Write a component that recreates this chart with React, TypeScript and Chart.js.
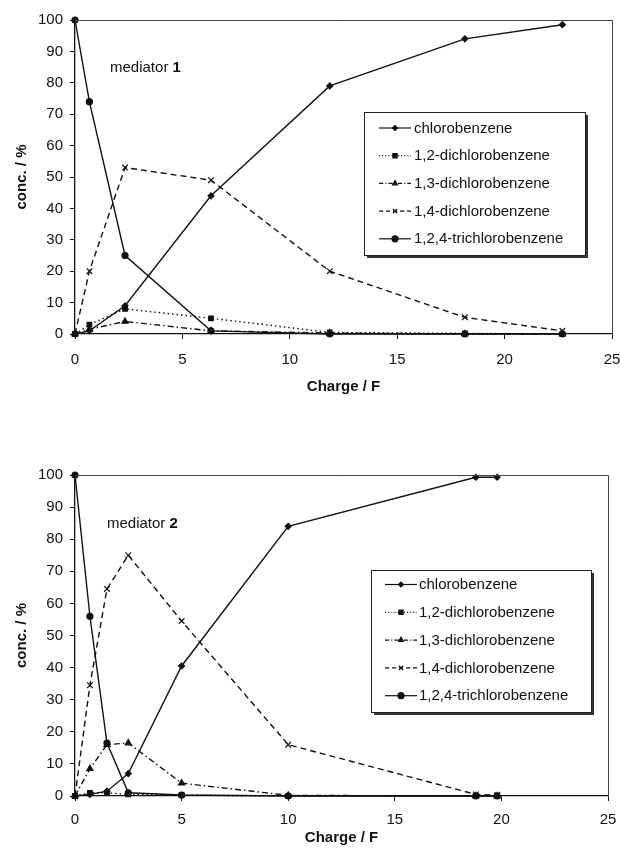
import React, { useEffect, useRef } from "react";
import { Chart, registerables } from "chart.js";
import { drawPoint } from "chart.js/helpers";

Chart.register(...registerables);
Chart.defaults.font.family = '"Liberation Sans", Arial, Helvetica, sans-serif';
Chart.defaults.color = "#111";

// ---------- data ----------
const SERIES_NAMES = [
  "chlorobenzene",
  "1,2-dichlorobenzene",
  "1,3-dichlorobenzene",
  "1,4-dichlorobenzene",
  "1,2,4-trichlorobenzene",
];

const X_TICKS = [0, 5, 10, 15, 20, 25];
const Y_TICKS = [0, 10, 20, 30, 40, 50, 60, 70, 80, 90, 100];

// mediator 1
const charge1 = [0, 0.67, 2.33, 6.33, 11.86, 18.15, 22.69];
const chloro1 = [0, 1, 9, 44, 79, 94, 98.5];
const dcb12_1 = [0, 3, 8, 5, 0.5, 0.2, 0];
const dcb13_1 = [0, 1.5, 4, 1, 0.3, 0, 0];
const dcb14_1 = [0, 20, 53, 49, 20, 5.3, 1];
const tcb1 = [100, 74, 25, 1, 0, 0, 0];

// mediator 2
const charge2 = [0, 0.7, 1.5, 2.5, 5, 10, 18.8, 19.8];
const chloro2 = [0, 0.5, 1.5, 7, 40.5, 84, 99.3, 99.3];
const dcb12_2 = [0, 1, 1, 0.5, 0.3, 0, 0, 0];
const dcb13_2 = [0, 8.5, 16, 16.5, 4, 0.2, 0, 0];
const dcb14_2 = [0, 34.5, 64.5, 75, 54.5, 16, 0.5, 0.3];
const tcb2 = [100, 56, 16.5, 1, 0.3, 0, 0, 0];

// ---------- styles ----------
const INK = "#111";
const STYLES = [
  { dash: [] as number[], point: "rectRot", radius: 3, lradius: 2.5 },
  { dash: [1.5, 3], point: "rect", radius: 3.2, lradius: 3 },
  { dash: [6, 3, 1.5, 3], point: "triangle", radius: 3.5, lradius: 2.8 },
  { dash: [6, 4], point: "crossRot", radius: 4, lradius: 3 },
  { dash: [] as number[], point: "circle", radius: 3, lradius: 3 },
];

const FONT = '"Liberation Sans", Arial, Helvetica, sans-serif';

const overlayPlugin = {
  id: "overlay",
  afterDraw(chart: any, _args: any, opts: any) {
    const { ctx, chartArea: a, scales } = chart;
    ctx.save();
    // top and right frame of plot area
    ctx.strokeStyle = "#444";
    ctx.lineWidth = 1;
    ctx.setLineDash([]);
    ctx.beginPath();
    ctx.moveTo(a.left, Math.round(a.top) + 0.5);
    ctx.lineTo(Math.round(a.right) + 0.5, Math.round(a.top) + 0.5);
    ctx.lineTo(Math.round(a.right) + 0.5, a.bottom);
    ctx.stroke();

    // annotation
    const px = scales.x.getPixelForValue(opts.labelX);
    const py = scales.y.getPixelForValue(opts.labelY);
    ctx.fillStyle = INK;
    ctx.textAlign = "left";
    ctx.textBaseline = "alphabetic";
    ctx.font = `15px ${FONT}`;
    ctx.fillText("mediator ", px, py);
    const w = ctx.measureText("mediator ").width;
    ctx.font = `bold 15px ${FONT}`;
    ctx.fillText(opts.labelNum, px + w, py);

    // legend box
    const L = opts.legend;
    ctx.fillStyle = "#333";
    ctx.fillRect(L.x + 3, L.y + 3, L.w, L.h);
    ctx.fillStyle = "#fff";
    ctx.fillRect(L.x, L.y, L.w, L.h);
    ctx.strokeStyle = "#222";
    ctx.lineWidth = 1;
    ctx.strokeRect(L.x + 0.5, L.y + 0.5, L.w, L.h);

    chart.data.datasets.forEach((ds: any, i: number) => {
      const st = STYLES[i];
      const y = L.y + L.row0 + i * L.gap;
      ctx.strokeStyle = INK;
      ctx.lineWidth = 1.2;
      ctx.setLineDash(st.dash.map((d: number) => d * 0.7));
      ctx.beginPath();
      ctx.moveTo(L.x + L.s0, y);
      ctx.lineTo(L.x + L.s1, y);
      ctx.stroke();
      ctx.setLineDash([]);
      ctx.fillStyle = INK;
      drawPoint(ctx, { pointStyle: st.point, radius: st.lradius, rotation: 0, borderWidth: 1 } as any, (L.x + L.s0 + L.x + L.s1) / 2, y);
      ctx.fillStyle = INK;
      ctx.font = `15px ${FONT}`;
      ctx.textBaseline = "middle";
      ctx.fillText(ds.label, L.x + L.textX, y + 0.5);
    });
    ctx.restore();
  },
};

function buildConfig(p: any) {
  const seriesVals = [p.chloro, p.dcb12, p.dcb13, p.dcb14, p.tcb];
  const datasets = seriesVals.map((vals: number[], i: number) => ({
    label: SERIES_NAMES[i],
    data: vals.map((v, j) => ({ x: p.charge[j], y: v })),
    borderColor: INK,
    backgroundColor: INK,
    borderWidth: 1.4,
    borderDash: STYLES[i].dash,
    pointStyle: STYLES[i].point,
    pointRadius: STYLES[i].radius,
    pointBorderWidth: 1.2,
    pointBackgroundColor: INK,
    pointBorderColor: INK,
    tension: 0,
    fill: false,
    clip: false,
  }));
  return {
    type: "line",
    data: { datasets },
    plugins: [overlayPlugin],
    options: {
      animation: false,
      responsive: false,
      maintainAspectRatio: false,
      layout: { padding: { top: p.padTop, right: p.padRight, left: 0, bottom: 0 } },
      plugins: {
        legend: { display: false },
        tooltip: { enabled: false },
        overlay: { labelX: p.labelX, labelY: p.labelY, labelNum: p.labelNum, legend: p.legend },
      },
      scales: {
        x: {
          type: "linear",
          min: 0,
          max: 25,
          afterBuildTicks: (s: any) => {
            s.ticks = X_TICKS.map((v) => ({ value: v }));
          },
          afterFit: (s: any) => {
            s.height = p.xAxisH;
            s.paddingLeft = 0;
            s.paddingRight = 0;
          },
          ticks: { padding: p.xTickPad, font: { size: 15 }, color: INK, maxRotation: 0 },
          grid: { drawOnChartArea: false, drawTicks: true, tickLength: 5, color: INK, lineWidth: 1 },
          border: { display: true, color: INK, width: 1.3 },
          title: {
            display: true,
            text: "Charge / F",
            font: { size: 15, weight: "bold" },
            color: INK,
            padding: { top: 0, bottom: p.xTitlePad },
          },
        },
        y: {
          type: "linear",
          min: 0,
          max: 100,
          afterBuildTicks: (s: any) => {
            s.ticks = Y_TICKS.map((v) => ({ value: v }));
          },
          afterFit: (s: any) => {
            s.width = 75;
          },
          ticks: { padding: 7, font: { size: 15 }, color: INK },
          grid: { drawOnChartArea: false, drawTicks: true, tickLength: 5, color: INK, lineWidth: 1 },
          border: { display: true, color: INK, width: 1.3 },
          title: {
            display: true,
            text: "conc. / %",
            font: { size: 15, weight: "bold" },
            color: INK,
            padding: { top: 13, bottom: 0 },
          },
        },
      },
    },
  };
}

const PANEL1 = {
  charge: charge1, chloro: chloro1, dcb12: dcb12_1, dcb13: dcb13_1, dcb14: dcb14_1, tcb: tcb1,
  padTop: 20, padRight: 8, xAxisH: 66, xTitlePad: 4, xTickPad: 12,
  labelX: 1.63, labelY: 83.4, labelNum: "1",
  legend: { x: 364, y: 112, w: 221, h: 143, row0: 16, gap: 27.7, s0: 15, s1: 47, textX: 50 },
};

const PANEL2 = {
  charge: charge2, chloro: chloro2, dcb12: dcb12_2, dcb13: dcb13_2, dcb14: dcb14_2, tcb: tcb2,
  padTop: 75, padRight: 12, xAxisH: 56, xTitlePad: 5, xTickPad: 10,
  labelX: 1.5, labelY: 83.5, labelNum: "2",
  legend: { x: 371, y: 170, w: 220, h: 142, row0: 14.5, gap: 27.8, s0: 14, s1: 46, textX: 48 },
};

function ConcChart({ panel, width, height }: { panel: any; width: number; height: number }) {
  const ref = useRef<HTMLCanvasElement | null>(null);
  useEffect(() => {
    if (!ref.current) return;
    const chart = new Chart(ref.current, buildConfig(panel) as any);
    return () => chart.destroy();
  }, [panel]);
  return <canvas ref={ref} width={width} height={height} style={{ display: "block", width, height }} />;
}

export default function App() {
  return (
    <div style={{ position: "absolute", left: 0, top: 0, width: 620, height: 852, background: "#fff", overflow: "hidden" }}>
      <div style={{ position: "absolute", left: 0, top: 0 }}>
        <ConcChart panel={PANEL1} width={620} height={400} />
      </div>
      <div style={{ position: "absolute", left: 0, top: 400 }}>
        <ConcChart panel={PANEL2} width={620} height={452} />
      </div>
    </div>
  );
}
